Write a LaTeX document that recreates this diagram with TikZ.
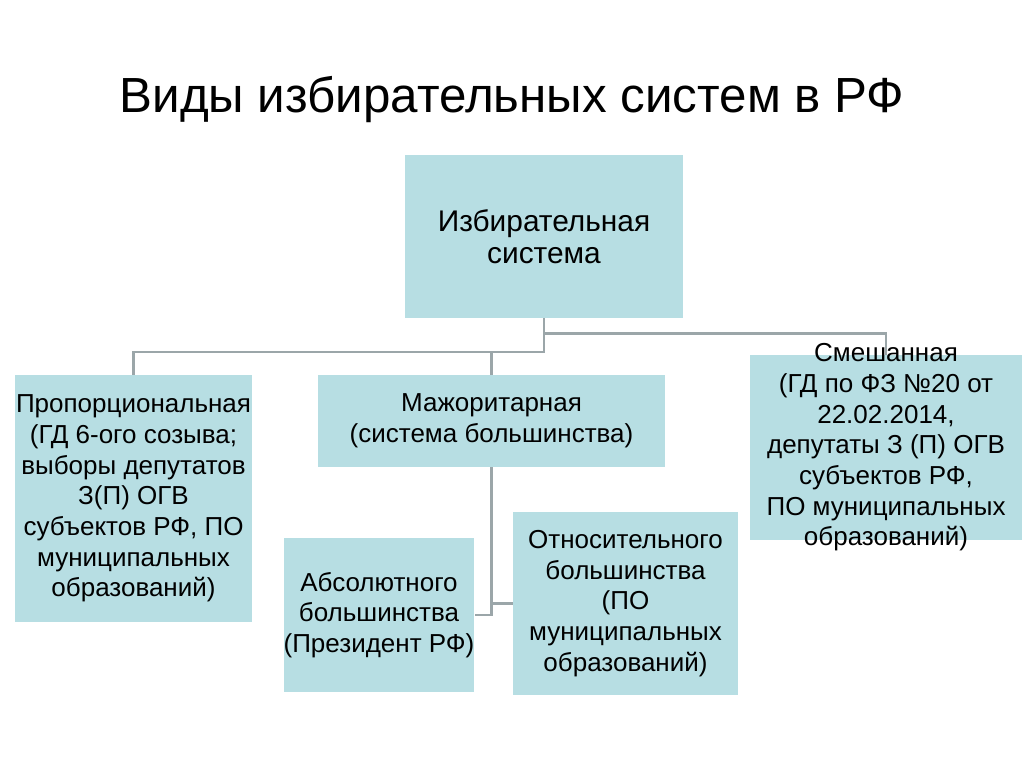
\documentclass[tikz,border=0pt]{standalone}
\usepackage{fontspec}
\setmainfont{Liberation Sans}
\usepackage{tikz}
\usetikzlibrary{positioning}
\definecolor{boxfill}{RGB}{183,222,227}
\definecolor{linegray}{RGB}{155,166,169}
\tikzset{
  box/.style={fill=boxfill,align=center,inner sep=0pt,font=\fontsize{19.5}{23}\selectfont},
  conn/.style={draw=linegray,line width=2.2pt}
}
\begin{document}
\begin{tikzpicture}[x=0.75pt,y=-0.75pt]
  \useasboundingbox (0,0) rectangle (1024,767);
  \draw (512,100) node[font=\fontsize{37}{40}\selectfont] (title) {Виды избирательных систем в РФ};
      \draw (544,236.5) node[box,minimum width=208.5pt,minimum height=122pt,font=\fontsize{22.4}{24}\selectfont] (top) {Избирательная\\система};
  \draw (133.5,498.5) node[box,minimum width=177.75pt,minimum height=185pt] (prop) {Пропорциональная\\(ГД 6-ого созыва;\\выборы депутатов\\З(П) ОГВ\\субъектов РФ, ПО\\муниципальных\\образований)};
  \draw (491.5,421) node[box,minimum width=260pt,minimum height=69pt] (major) {Мажоритарная\\(система большинства)};
  \draw (886,447.5) node[box,minimum width=204pt,minimum height=139pt] (mixed) {};
  \draw (mixed.center) node[box,fill=none] (mixedtext) {Смешанная\\(ГД по ФЗ №20 от\\22.02.2014,\\депутаты З (П) ОГВ\\субъектов РФ,\\ПО муниципальных\\образований)};
      \draw (379,615) node[box,minimum width=141pt,minimum height=115.5pt] (abs) {Абсолютного\\большинства\\(Президент РФ)};
      \draw (625.5,603.5) node[box,minimum width=168.75pt,minimum height=137pt] (rel) {Относительного\\большинства\\(ПО\\муниципальных\\образований)};
  \coordinate (jL) at (544,352);
  \path[conn] (top.south) -- ++(0,15) -| (mixed.north);
  \path[conn] (top.south) -- (jL) -| (prop.north);
  \path[conn] (jL -| major.north) -- (major.north);
      \path[conn] (major.south) |- (abs.east);
      \path[conn] (major.south |- rel.west) -- (rel.west);
\end{tikzpicture}
\end{document}
